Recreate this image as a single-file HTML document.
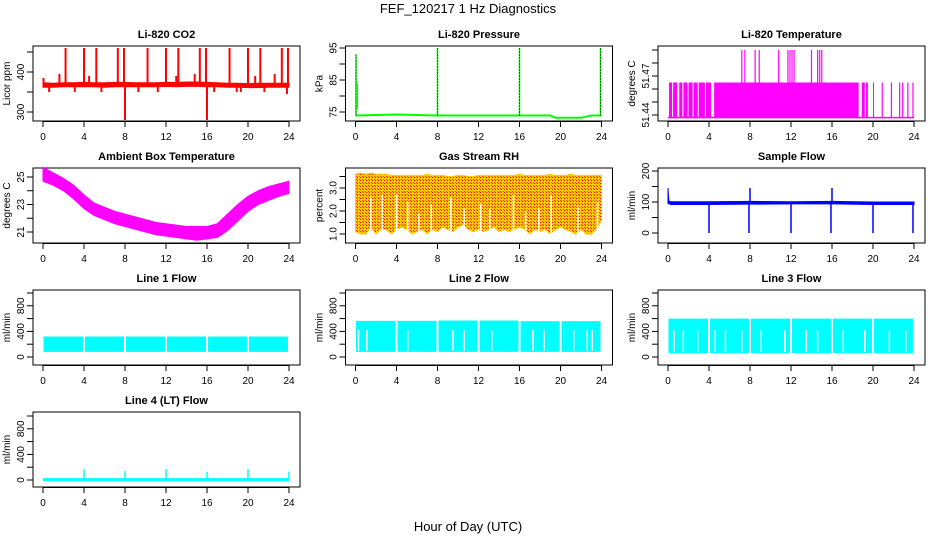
<!DOCTYPE html>
<html><head><meta charset="utf-8"><style>
html,body{margin:0;padding:0;background:#fff;}
svg{display:block;font-family:"Liberation Sans",Arial,sans-serif;}
</style></head><body>
<svg id="c" width="936" height="540" viewBox="0 0 936 540">
<defs>
<pattern id="rhpat" width="3" height="3" patternUnits="userSpaceOnUse"><rect width="3" height="3" fill="#ffcc00"/><rect width="1" height="1" fill="#ff0000"/><rect x="2" y="2" width="1" height="1" fill="#ff3300"/></pattern>
</defs>
<text x="468" y="13" text-anchor="middle" font-size="13">FEF_120217  1 Hz Diagnostics</text>
<text x="468" y="531" text-anchor="middle" font-size="13">Hour of Day (UTC)</text>
</svg>
<script>
// ---- data arrays ----
const xTicks=[0,4,8,12,16,20,24];
const bandHours=[0,1,2,3,4,5,6,7,8,9,10,11,12,13,14,15,16,17,18,19,20,21,22,23,24];
const co2Lo=[362,362,363,363,363,363,362,363,363,363,363,363,364,363,364,364,363,363,362,362,361,361,362,362,362];
const co2Hi=[373,372,373,373,374,373,373,374,374,373,373,373,374,374,375,375,374,373,372,372,371,372,372,372,372];
const co2SpikeHours=[0.05,1.6,2.2,4.0,4.5,5.2,5.7,7.3,7.9,8.0,10.2,12.0,13.2,14.8,15.3,15.9,16.0,18.2,18.9,20.0,20.7,21.2,21.6,22.6,23.3,23.9,0.6,3.1,9.3,11.2,13.0,16.7,19.3,23.8];
const co2SpikeVals=[385,395,460,460,390,460,350,460,460,280,460,460,460,395,460,460,280,460,350,460,390,460,350,395,460,460,350,350,350,350,390,350,350,345];
const presHours=[0,4,8,12,16,19,19.5,22,23,24];
const presVals=[73.9,74.2,73.9,73.9,73.9,73.9,73.2,73.2,73.9,73.9];
const presSpikeHours=[0.05,8,16,23.9];
const presSpikeVals=[93,95,95,95];
const tempBaseVals=[51.438,51.438];
const tempHiStart=[0.1,0.5,1.1,1.5,2.0,2.5,3.0,3.7,4.5,18.9,19.3,20.0];
const tempHiEnd=[0.4,0.9,1.4,1.9,2.4,2.9,3.6,4.2,18.6,19.2,19.5,20.1];
const tempHiVal=51.465;
const tempSpikeHours=[7.2,7.5,8.5,8.9,10.8,11.7,11.9,12.1,12.3,14.0,14.6,14.8,15.0,20.9,21.8,22.6,22.9,23.4,23.9];
const tempSpikeVals=[51.49,51.49,51.49,51.49,51.49,51.49,51.49,51.49,51.49,51.49,51.49,51.49,51.49,51.465,51.465,51.465,51.465,51.465,51.465];
const ambLo=[24.7,24.4,24.0,23.4,22.7,22.2,21.9,21.6,21.4,21.2,21.0,20.8,20.7,20.6,20.5,20.4,20.5,20.6,21.1,21.8,22.5,23.0,23.3,23.6,23.8];
const ambHi=[25.7,25.3,24.9,24.4,23.7,23.1,22.8,22.5,22.3,22.1,21.9,21.7,21.6,21.5,21.4,21.4,21.4,21.6,22.3,23.0,23.6,24.0,24.3,24.5,24.7];
const rhHours=[0,0.5,1,1.5,2,2.5,3,3.5,4,4.5,5,5.5,6,6.5,7,7.5,8,8.5,9,9.5,10,10.5,11,11.5,12,12.5,13,13.5,14,14.5,15,15.5,16,16.5,17,17.5,18,18.5,19,19.5,20,20.5,21,21.5,22,22.5,23,23.5,24];
const rhLo=[1.1,1.0,1.0,1.3,1.0,1.2,1.2,1.0,1.2,1.3,1.2,1.0,1.1,1.2,1.0,1.2,1.1,1.3,1.2,1.1,1.3,1.4,1.2,1.1,1.2,1.1,1.2,1.3,1.1,1.2,1.1,1.2,1.3,1.2,1.0,1.2,1.1,1.2,1.0,1.2,1.3,1.2,1.1,1.0,1.2,1.0,1.0,1.2,1.6];
const rhHi=[3.6,3.65,3.6,3.65,3.6,3.6,3.6,3.55,3.55,3.55,3.55,3.55,3.55,3.55,3.6,3.55,3.55,3.55,3.5,3.5,3.55,3.55,3.5,3.5,3.55,3.55,3.55,3.55,3.55,3.55,3.55,3.55,3.6,3.55,3.55,3.55,3.55,3.55,3.6,3.55,3.55,3.55,3.6,3.55,3.55,3.55,3.55,3.55,3.55];
const rhGapHours=[1.5,2.6,4.0,5.1,6.2,7.4,9.3,10.6,12.2,13.1,15.4,16.6,17.9,19.1,21.7,23.6];
const rhGapTops=[2.6,2.7,2.7,2.4,1.9,2.3,2.6,2.1,2.3,2.1,2.7,2.0,2.1,2.7,2.2,2.4];
const sampleHours=[0,0.05,0.1,0.3,4,8,12,16,20,24];
const sampleLo=[95,95,94,92,92,93,94,94,92,92];
const sampleHi=[145,118,102,101,101,102,101,102,100,100];
const sampleSpikeHours=[4,7.9,8,12,15.9,16,20,23.9];
const sampleSpikeVals=[0,0,145,0,0,145,0,0];
const flowSegStart=[0.05,4.1,8.1,12.1,16.1,20.1];
const flowSegEnd=[3.9,7.9,11.9,15.9,19.9,23.9];
const line1Lo=[80,80,80,80,80,80];
const line1Hi=[320,320,320,320,320,320];
const line2Lo=[80,80,80,80,80,80];
const line2Hi=[565,565,570,570,560,560];
const line2GapHours=[0.3,1.1,5.1,9.5,10.6,13.3,17.3,18.4,21.3,22.6,23.1];
const line3Lo=[60,60,60,60,60,60];
const line3Hi=[600,600,600,600,600,600];
const line3GapHours=[0.6,1.5,2.9,4.6,5.6,7.2,9.1,11.4,13.5,14.6,17.1,19.2,21.6,23.2];
const line4Base=[5,5];
const line4SpikeHours=[4,8,12,16,20,24];
const line4SpikeVals=[170,140,170,130,170,130];

// ---- layout ----
const svg=document.getElementById('c');
const NS='http://www.w3.org/2000/svg';
const colX0=[43,355.5,668], rowTop=[46,168,290,412];
function mk(tag,attrs,parent){const e=document.createElementNS(NS,tag);for(const k in attrs)e.setAttribute(k,attrs[k]);(parent||svg).appendChild(e);return e;}
function panel(col,row,title,ylab,yfn,ticks,labels,name){
  const g=mk('g',{});
  
  
  const x0=colX0[col], top=rowTop[row], bot=top+75, left=x0-10, right=x0+257;
  const xs=h=>x0+h*10.25;
  const t=mk('text',{x:(left+right)/2,y:top-8,'text-anchor':'middle','font-size':11,'font-weight':'bold'},g);t.textContent=title;
  
  
  const box=mk('rect',{x:left,y:top,width:right-left,height:75,fill:'none',stroke:'#000','stroke-width':1},g);
  
  
  xTicks.forEach(h=>{mk('line',{x1:xs(h),x2:xs(h),y1:bot,y2:bot+6,stroke:'#000'},g);
    const l=mk('text',{x:xs(h),y:bot+19,'text-anchor':'middle','font-size':10},g);l.textContent=h;
    
    });
  mk('line',{x1:xs(0),x2:xs(24),y1:bot+0.5,y2:bot+0.5,stroke:'#000'},g);
  ticks.forEach(v=>{mk('line',{x1:left-6,x2:left,y1:yfn(v),y2:yfn(v),stroke:'#000'},g);});
  labels.forEach(v=>{const y=yfn(v);const l=mk('text',{x:0,y:0,'text-anchor':'middle','font-size':10,transform:`translate(${left-9},${y}) rotate(-90)`},g);l.textContent=v;
    
    });
  const yl=mk('text',{x:0,y:0,'text-anchor':'middle','font-size':10,transform:`translate(${left-23},${(top+bot)/2}) rotate(-90)`},g);yl.textContent=ylab;
  
  
  const d=mk('g',{},g);
  
  
  return {xs,ys:yfn,g:d,top,bot};
}
function band(p,hours,lo,hi,fill){
  let pts=hours.map((h,i)=>p.xs(h)+','+p.ys(hi[i]));
  for(let i=hours.length-1;i>=0;i--)pts.push(p.xs(hours[i])+','+p.ys(lo[i]));
  mk('polygon',{points:pts.join(' '),fill:fill,stroke:fill==='url(#rhpat)'?'#ffcc00':fill,'stroke-width':1},p.g);
}
function vline(p,h,v1,v2,color,w,dash){const a={x1:p.xs(h),x2:p.xs(h),y1:p.ys(v1),y2:p.ys(v2),stroke:color,'stroke-width':w||1.5};if(dash)a['stroke-dasharray']=dash;mk('line',a,p.g);}

// CO2
let p=panel(0,0,'Li-820 CO2','Licor ppm',v=>112-(v-300)*0.4,[300,350,400,450],[300,400],'co2');
band(p,bandHours,co2Lo,co2Hi,'#ff0000');
co2SpikeHours.forEach((h,i)=>vline(p,h,368,co2SpikeVals[i],'#ff0000',2));
// Pressure
p=panel(1,0,'Li-820 Pressure','kPa',v=>112-(v-75)*3.2,[75,80,85,90,95],[75,85,95],'pressure');
mk('polyline',{points:presHours.map((h,i)=>p.xs(h)+','+p.ys(presVals[i])).join(' '),fill:'none',stroke:'#00ff00','stroke-width':2},p.g);
presSpikeHours.forEach((h,i)=>{vline(p,h,73.9,presSpikeVals[i],'#00ff00',1.5);vline(p,h,73.9,presSpikeVals[i],'#000',1,'1,2');});
vline(p,0.15,76,84,'#00ff00',2);
// Li temperature
p=panel(2,0,'Li-820 Temperature','degrees C',v=>115-(v-51.44)*1300,[51.44,51.45,51.46,51.47,51.48,51.49],[51.44,51.47],'li820-temp');
mk('line',{x1:p.xs(0),x2:p.xs(24),y1:p.ys(tempBaseVals[0]),y2:p.ys(tempBaseVals[1]),stroke:'#ff00ff','stroke-width':1.5},p.g);
tempHiStart.forEach((s,i)=>mk('rect',{x:p.xs(s),y:p.ys(tempHiVal),width:p.xs(tempHiEnd[i])-p.xs(s),height:p.ys(tempBaseVals[0])-p.ys(tempHiVal),fill:'#ff00ff'},p.g));
tempSpikeHours.forEach((h,i)=>vline(p,h,tempBaseVals[0],tempSpikeVals[i],'#ff00ff',1.2));
// Ambient
p=panel(0,1,'Ambient Box Temperature','degrees C',v=>177-(v-25)*13.75,[21,22,23,24,25],[21,23,25],'ambient-temp');
band(p,bandHours,ambLo,ambHi,'#ff00ff');
// RH
p=panel(1,1,'Gas Stream RH','percent',v=>234-(v-1)*23,[1,1.5,2,2.5,3,3.5],['1.0','2.0','3.0'],'gas-rh');
band(p,rhHours,rhLo,rhHi,'url(#rhpat)');
rhGapHours.forEach((h,i)=>vline(p,h,0.8,rhGapTops[i],'#fff',1.5));
// Sample flow
p=panel(2,1,'Sample Flow','ml/min',v=>233-v*0.31,[0,50,100,150,200],[0,100,200],'sample-flow');
band(p,sampleHours,sampleLo,sampleHi,'#0000ff');
sampleSpikeHours.forEach((h,i)=>vline(p,h,97,sampleSpikeVals[i],'#0000ff',1.5));
// Line flows
const fy=z=>v=>z-v*0.064, fT=[0,200,400,600,800,1000], fL=[0,400,800];
function flow(col,row,title,name,lo,hi,gaps){
  const q=panel(col,row,title,'ml/min',fy(rowTop[row]+67),fT,fL,name);
  flowSegStart.forEach((s,i)=>mk('rect',{x:q.xs(s),y:q.ys(hi[i]),width:q.xs(flowSegEnd[i])-q.xs(s),height:q.ys(lo[i])-q.ys(hi[i]),fill:'#00ffff'},q.g));
  if(gaps)gaps.forEach(h=>vline(q,h,lo[0]+20,420,'#fff',1.5));
  return q;
}
flow(0,2,'Line 1 Flow','line1-flow',line1Lo,line1Hi);
flow(1,2,'Line 2 Flow','line2-flow',line2Lo,line2Hi,line2GapHours);
flow(2,2,'Line 3 Flow','line3-flow',line3Lo,line3Hi,line3GapHours);
p=panel(0,3,'Line 4 (LT) Flow','ml/min',fy(480),fT,fL,'line4-flow');
mk('line',{x1:p.xs(0),x2:p.xs(24),y1:p.ys(line4Base[0]),y2:p.ys(line4Base[1]),stroke:'#00ffff','stroke-width':3},p.g);
line4SpikeHours.forEach((h,i)=>vline(p,h,10,line4SpikeVals[i],'#00ffff',1.5));
</script>
</body></html>
